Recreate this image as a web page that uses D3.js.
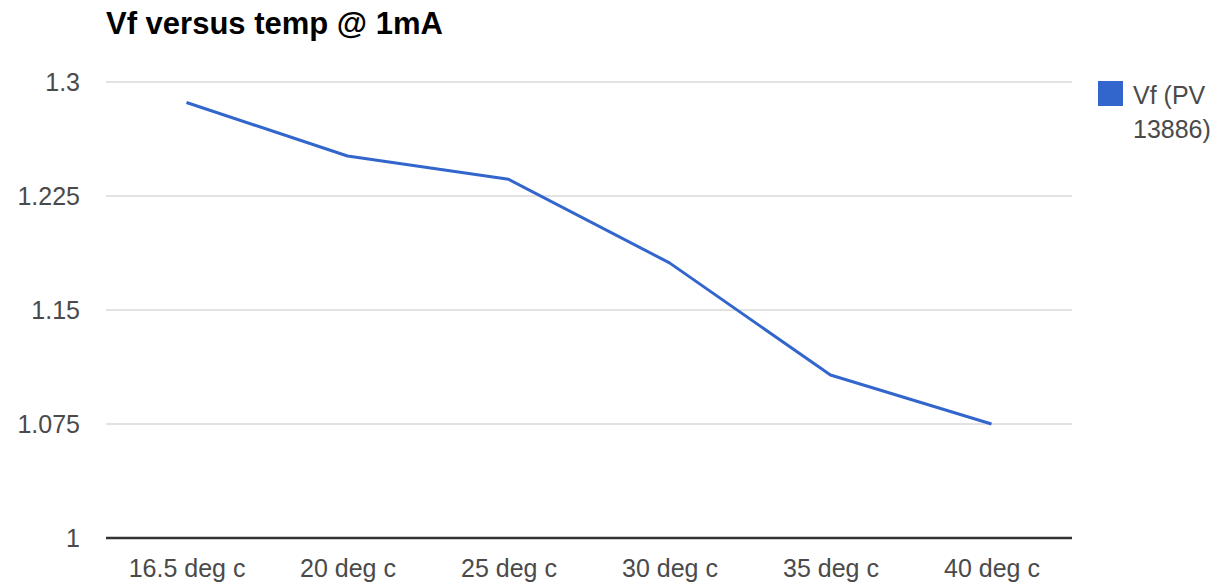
<!DOCTYPE html>
<html>
<head>
<meta charset="utf-8">
<script src="https://cdn.jsdelivr.net/npm/d3@7"></script>
<style>
  html, body { margin: 0; padding: 0; background: #fff; }
  svg { display: block; font-family: "Liberation Sans", Arial, sans-serif; }
</style>
</head>
<body>
<svg id="chart" width="1218" height="587"></svg>
<script>
const categories = ["16.5 deg c", "20 deg c", "25 deg c", "30 deg c", "35 deg c", "40 deg c"];
const vfValues = [1.2865, 1.2513, 1.2360, 1.1810, 1.1072, 1.0750];
const yTicks = [1, 1.075, 1.15, 1.225, 1.3];
const yTickLabels = ["1", "1.075", "1.15", "1.225", "1.3"];
const seriesName = ["Vf (PV", "13886)"];
const titleText = "Vf versus temp @ 1mA";

(function () {
const svg = d3.select("#chart");
const plotLeft = 106, plotRight = 1072, plotTop = 82, plotBottom = 538;

const x = d3.scalePoint().domain(categories).range([plotLeft, plotRight]).padding(0.5);
const y = d3.scaleLinear().domain([1, 1.3]).range([plotBottom, plotTop]);

// Gridlines
svg.append("g").selectAll("line")
  .data(yTicks.filter(d => d !== 1))
  .join("line")
  .attr("x1", plotLeft).attr("x2", plotRight)
  .attr("y1", d => y(d)).attr("y2", d => y(d))
  .attr("stroke", "#e2e2e2").attr("stroke-width", 2);

// Y axis labels
const yAxis = d3.axisLeft(y).tickValues(yTicks).tickSize(0).tickPadding(0)
  .tickFormat((d, i) => yTickLabels[i]);
const yg = svg.append("g").attr("transform", "translate(80,0)").call(yAxis);
yg.select(".domain").remove();
yg.selectAll("text").attr("font-size", 25).attr("fill", "#4a4a4a")
  .attr("font-family", "'Liberation Sans', Arial, sans-serif").attr("dy", "0.35em");

// X axis labels
const xAxis = d3.axisBottom(x).tickSize(0).tickPadding(0);
const xg = svg.append("g").attr("transform", `translate(0,${plotBottom})`).call(xAxis);
xg.select(".domain").remove();
xg.selectAll("text").attr("font-size", 25).attr("fill", "#4a4a4a")
  .attr("font-family", "'Liberation Sans', Arial, sans-serif")
  .attr("dy", null).attr("y", 39);

// Baseline
svg.append("line")
  .attr("x1", plotLeft).attr("x2", plotRight)
  .attr("y1", y(1)).attr("y2", y(1))
  .attr("stroke", "#333").attr("stroke-width", 2.5);

// Line
const line = d3.line().x((d, i) => x(categories[i])).y(d => y(d));
svg.append("path")
  .datum(vfValues)
  .attr("d", line)
  .attr("fill", "none")
  .attr("stroke", "#3366cc")
  .attr("stroke-width", 3)
  .attr("stroke-linejoin", "round");

// Title
svg.append("text")
  .attr("x", 106).attr("y", 34)
  .attr("font-size", 31).attr("font-weight", "bold").attr("fill", "#000")
  .text(titleText);

// Legend
svg.append("rect").attr("x", 1098).attr("y", 81).attr("width", 25).attr("height", 25)
  .attr("fill", "#3366cc");
svg.append("g").selectAll("text").data(seriesName).join("text")
  .attr("x", 1133).attr("y", (d, i) => 104 + i * 34)
  .attr("font-size", 25).attr("fill", "#4a4a4a")
  .text(d => d);
})();
</script>
</body>
</html>
